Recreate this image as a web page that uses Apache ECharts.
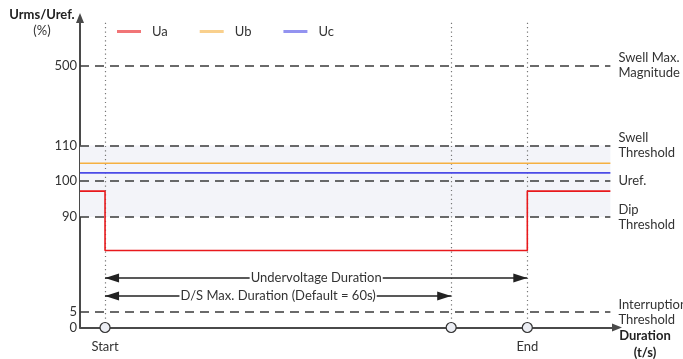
<!DOCTYPE html>
<html>
<head>
<meta charset="utf-8">
<script src="https://cdn.jsdelivr.net/npm/echarts@6/dist/echarts.min.js"></script>
<style>html,body{margin:0;padding:0;background:#fff}#c{width:683px;height:359px}</style>
</head>
<body>
<div id="c"></div>
<script>
// ---- data ----
const seriesNames = ['Ua', 'Ub', 'Uc'];
const timeMin = -4.34, timeMax = 88.4, lineEnd = 87.6;
const uaTimes = [timeMin, 0, 73.2, lineEnd];
const uaValues = [97.2, 60, 97.2, 97.2];
const ubTimes = [timeMin, lineEnd];
const ubValues = [105, 105];
const ucTimes = [timeMin, lineEnd];
const ucValues = [102.3, 102.3];
const tickValues = [0, 5, 90, 100, 110, 500];
const thresholdValues = [500, 110, 100, 90, 5];
const thresholdLabels = ['Swell Max.\nMagnitude', 'Swell\nThreshold', 'Uref.', 'Dip\nThreshold', 'Interruption\nThreshold'];
const bandRange = [90, 110];
const eventTimes = [0, 60, 73.2];
const eventLabels = ['Start', '', 'End'];
const durationLabels = ['Undervoltage Duration', 'D/S Max. Duration (Default = 60s)'];
const durationStarts = [0, 0];
const durationEnds = [73.2, 60];
const durationLevels = [35.4, 19.3];

// ---- piecewise (schematic) y scale ----
const yBreaks = [0, 5, 90, 100, 110, 500];
const yStops = [0, 15.5, 110.5, 146.5, 182, 262];
function toY(v) {
  for (let i = 1; i < yBreaks.length; i++) {
    if (v <= yBreaks[i]) {
      const f = (v - yBreaks[i-1]) / (yBreaks[i] - yBreaks[i-1]);
      return yStops[i-1] + f * (yStops[i] - yStops[i-1]);
    }
  }
  return yStops[yStops.length-1];
}
function fromY(d) {
  for (let i = 1; i < yStops.length; i++) {
    if (d <= yStops[i] + 1e-6) {
      const f = (d - yStops[i-1]) / (yStops[i] - yStops[i-1]);
      return yBreaks[i-1] + f * (yBreaks[i] - yBreaks[i-1]);
    }
  }
  return yBreaks[yBreaks.length-1];
}

const FONT = 'Lato';
const TXT = '#333';
const colors = ['#e8191c', '#f5b041', '#4b4be6'];

const pts = (ts, vs) => ts.map((t, i) => [t, toY(vs[i])]);

const chart = echarts.init(document.getElementById('c'));
chart.setOption({
  animation: false,
  textStyle: { fontFamily: FONT },
  grid: { left: 80, right: 683 - 615, top: 22, bottom: 359 - 327.5, containLabel: false, outerBoundsMode: 'none' },
  legend: {
    data: seriesNames, left: 117, top: 25, padding: 0, icon: 'rect', itemWidth: 24, itemHeight: 3, itemGap: 32,
    itemStyle: { opacity: 0.6 },
    textStyle: { fontFamily: FONT, fontSize: 13, color: TXT, padding: [0, 0, 0, 6] }
  },
  xAxis: {
    type: 'value', min: timeMin, max: timeMax,
    axisLabel: { show: false }, axisTick: { show: false }, splitLine: { show: false },
    axisLine: { lineStyle: { color: '#4a4a4a', width: 2 }, symbol: ['none', 'triangle'], symbolSize: [8, 10], symbolOffset: [0, 2] },
    name: 'Duration\n(t/s)', nameLocation: 'end', nameGap: 30,
    nameTextStyle: { fontFamily: FONT, fontWeight: 'bold', fontSize: 13, color: '#222', align: 'center', verticalAlign: 'top', lineHeight: 17, padding: [0, 0, 0, 0] }
  },
  yAxis: {
    type: 'value', min: 0, max: 305.5,
    splitLine: { show: false }, axisTick: { show: false },
    axisLine: { onZero: false, lineStyle: { color: '#4a4a4a', width: 2 }, symbol: ['none', 'triangle'], symbolSize: [8, 10], symbolOffset: [0, 4] },
    axisLabel: {
      customValues: tickValues.map(toY), margin: 3, fontFamily: FONT, fontSize: 13, color: TXT,
      formatter: v => String(Math.round(fromY(v)))
    },
    name: '{b|Urms/Uref.}\n{n|(%)}', nameLocation: 'end', nameGap: 15,
    nameTextStyle: {
      align: 'center', verticalAlign: 'top', padding: [0, 76, 0, 0],
      rich: {
        b: { fontFamily: FONT, fontWeight: 'bold', fontSize: 13, color: '#222', lineHeight: 16, align: 'center' },
        n: { fontFamily: FONT, fontSize: 13, color: TXT, lineHeight: 16, align: 'center' }
      }
    }
  },
  series: [
    {
      name: 'band', type: 'line', data: [], silent: true,
      markArea: {
        silent: true, itemStyle: { color: '#f3f4f9' },
        data: [[{ coord: [timeMin, toY(bandRange[0])] }, { coord: [lineEnd, toY(bandRange[1])] }]]
      },
      markLine: {
        silent: true, symbol: 'none',
        lineStyle: { color: '#777', type: [1.2, 3.2], width: 1.2 },
        label: { show: false },
        data: eventTimes.map(t => ({ xAxis: t }))
      }
    },
    {
      name: 'thresholds', type: 'line', data: [], silent: true, z: 3,
      markLine: {
        silent: true, symbol: 'none',
        lineStyle: { color: '#3a3a3a', type: [9, 6], width: 1.5 },
        label: { show: true, position: 'end', distance: 8, fontFamily: FONT, fontSize: 13, color: TXT, lineHeight: 15 },
        data: thresholdValues.map((v, i) => [
          { coord: [timeMin, toY(v)], label: { formatter: thresholdLabels[i] } },
          { coord: [lineEnd, toY(v)] }
        ])
      }
    },
    { name: 'Ua', type: 'line', step: 'end', symbol: 'none', color: colors[0], lineStyle: { width: 1.6, color: colors[0] }, data: pts(uaTimes, uaValues), z: 5 },
    { name: 'Ub', type: 'line', symbol: 'none', color: colors[1], lineStyle: { width: 1.3, color: colors[1] }, data: pts(ubTimes, ubValues), z: 5 },
    { name: 'Uc', type: 'line', symbol: 'none', color: colors[2], lineStyle: { width: 1.8, color: colors[2] }, data: pts(ucTimes, ucValues), z: 5 },
    {
      name: 'durations', type: 'line', data: [], silent: true, z: 6,
      markLine: {
        silent: true, symbol: ['triangle', 'triangle'], symbolSize: [9, 14], symbolOffset: [[0, 7], [0, 7]],
        lineStyle: { color: '#222', type: 'solid', width: 1.5 },
        label: { show: true, position: 'middle', distance: 0, verticalAlign: 'middle', fontFamily: FONT, fontSize: 13, color: TXT, backgroundColor: '#fff', padding: [1, 1] },
        data: durationLabels.map((name, i) => [
          { coord: [durationStarts[i], toY(durationLevels[i])], label: { formatter: name } },
          { coord: [durationEnds[i], toY(durationLevels[i])] }
        ])
      }
    },
    {
      name: 'events', type: 'scatter', z: 8, clip: false, symbol: 'circle', symbolSize: 10,
      itemStyle: { color: '#eceef4', borderColor: '#333', borderWidth: 1.2, opacity: 1 },
      label: { show: true, position: 'bottom', distance: 7, fontFamily: FONT, fontSize: 13, color: TXT, formatter: p => eventLabels[p.dataIndex] },
      data: eventTimes.map(t => [t, 0])
    }
  ]
});
</script>
</body>
</html>
